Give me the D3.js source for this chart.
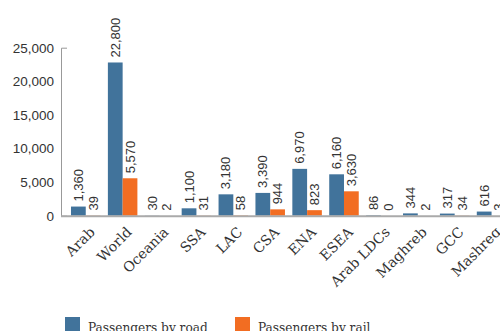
<!DOCTYPE html>
<html>
<head>
<meta charset="utf-8">
<script src="https://cdn.jsdelivr.net/npm/d3@7"></script>
<style>
  body { margin: 0; background: #fff; }
  svg { display: block; }
</style>
</head>
<body>
<div id="chart"></div>
<script>
// regions shown on the x axis
const regions = ["Arab", "World", "Oceania", "SSA", "LAC", "CSA", "ENA", "ESEA", "Arab LDCs", "Maghreb", "GCC", "Mashreq"];
// passengers by road and by rail for each region
const roadValues = [1360, 22800, 30, 1100, 3180, 3390, 6970, 6160, 86, 344, 317, 616];
const railValues = [39, 5570, 2, 31, 58, 944, 823, 3630, 0, 2, 34, 3];
const seriesNames = ["Passengers by road", "Passengers by rail"];
const yTicks = [0, 5000, 10000, 15000, 20000, 25000];

const colors = ["#41739b", "#f26d22"];

const width = 500;
const height = 331;
const svg = d3.select("#chart").append("svg").attr("width", width).attr("height", height);

// y scale, baseline near 216 and 25,000 at the top of the axis
let yScale = d3.scaleLinear().domain([0, 25000]).range([215.7, 47.7]);
// band for every region, runs past the right edge like the original
let xScale = d3.scaleBand().domain(regions).range([67.3, 510]).paddingInner(0.2).paddingOuter(0.1);
let inner = d3.scaleBand().domain([0, 1]).range([0, xScale.bandwidth()]);

let rows = regions.map((r, i) => ({ region: r, values: [roadValues[i], railValues[i]] }));

// y axis
let yAxis = svg.append("g")
  .attr("transform", "translate(61,0)")
  .call(d3.axisLeft(yScale).tickValues(yTicks).tickFormat(d3.format(",")).tickSize(0).tickSizeOuter(-6).tickPadding(7));
yAxis.select(".domain").attr("stroke", "#999");
yAxis.selectAll("text")
  .attr("font-family", "Liberation Sans, Arial, sans-serif")
  .attr("font-size", 13.5)
  .attr("fill", "#333");

// bars
let groups = svg.selectAll(".grp").data(rows).enter().append("g")
  .attr("class", "grp")
  .attr("transform", d => "translate(" + xScale(d.region) + ",0)");

groups.selectAll("rect").data(d => d.values).enter().append("rect")
  .attr("x", (d, i) => inner(i))
  .attr("y", d => yScale(d))
  .attr("width", inner.bandwidth())
  .attr("height", d => yScale(0) - yScale(d))
  .attr("fill", (d, i) => colors[i]);

// value labels, rotated
groups.selectAll("text").data(d => d.values).enter().append("text")
  .attr("transform", (d, i) => "translate(" + (inner(i) + inner.bandwidth() / 2 + 4.5) + "," + (yScale(d) - 5) + ") rotate(-90)")
  .attr("font-family", "Liberation Sans, Arial, sans-serif")
  .attr("font-size", 13)
  .attr("fill", "#333")
  .text(d => d3.format(",")(d));

// baseline
svg.append("line")
  .attr("x1", 61).attr("x2", width)
  .attr("y1", yScale(0) + 0.5).attr("y2", yScale(0) + 0.5)
  .attr("stroke", "#aaa").attr("stroke-width", 2);

// category labels
svg.selectAll(".cat").data(regions).enter().append("text")
  .attr("class", "cat")
  .attr("transform", d => "translate(" + (xScale(d) + xScale.bandwidth() / 2 + 10) + ",233) rotate(-45)")
  .attr("text-anchor", "end")
  .attr("font-family", "DejaVu Serif, serif")
  .attr("font-size", 14)
  .attr("fill", "#333")
  .text(d => d);

// legend
let legendX = [65, 235];
let legend = svg.selectAll(".leg").data(seriesNames).enter().append("g")
  .attr("class", "leg")
  .attr("transform", (d, i) => "translate(" + legendX[i] + ",317)");
legend.append("rect").attr("width", 15).attr("height", 15).attr("fill", (d, i) => colors[i]);
legend.append("text")
  .attr("x", 23).attr("y", 15)
  .attr("font-family", "DejaVu Serif Condensed, DejaVu Serif, serif")
  .attr("font-size", 13.5)
  .attr("fill", "#333")
  .text(d => d);
</script>
</body>
</html>
